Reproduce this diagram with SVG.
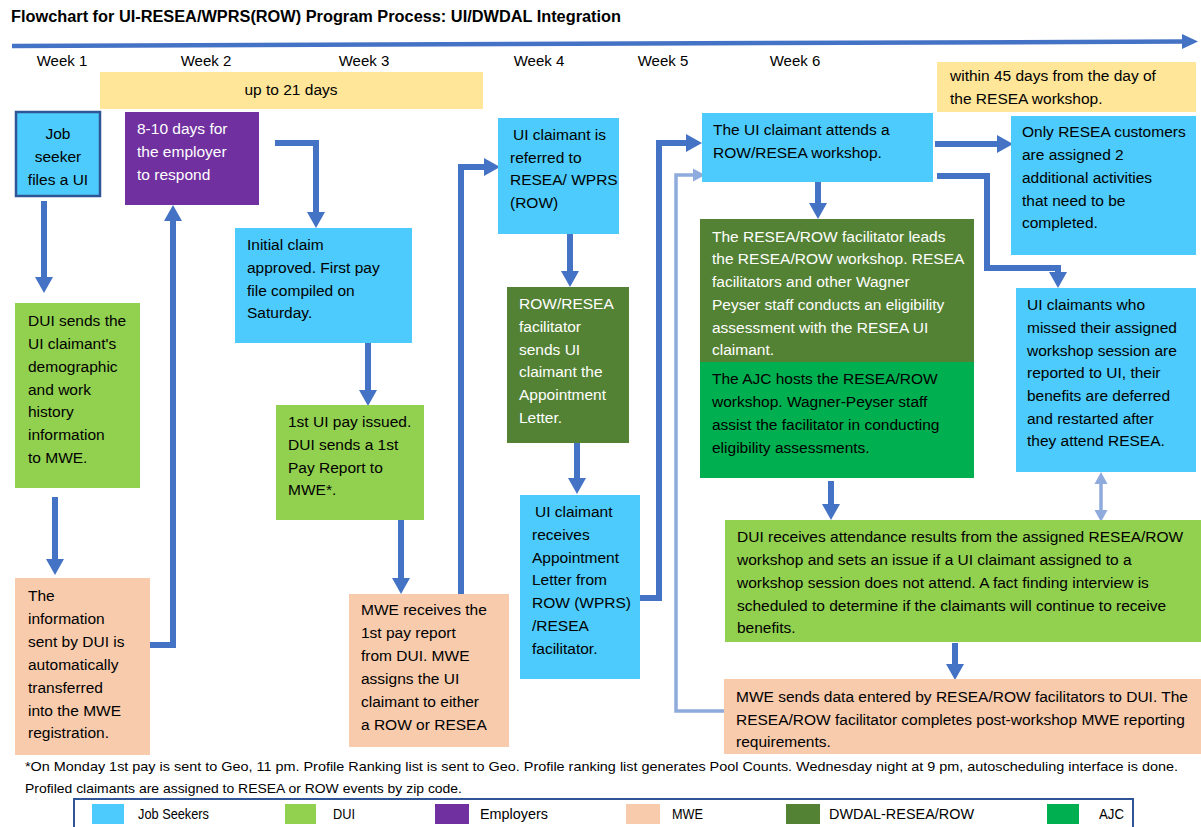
<svg xmlns="http://www.w3.org/2000/svg" width="1201" height="827" viewBox="0 0 1201 827">
<style>
.t{font-family:"Liberation Sans",Arial,sans-serif;font-size:15.5px;fill:#000}
.w{fill:#fff}
.wk{font-family:"Liberation Sans",Arial,sans-serif;font-size:15px;fill:#000;text-anchor:middle}
.fn{font-family:"Liberation Sans",Arial,sans-serif;font-size:13.5px;fill:#000}
.c{fill:none;stroke:#4472C4;stroke-width:6}
.cl{fill:none;stroke:#8FAADC;stroke-width:3.5}
.js{fill:#4CCBFC}.dui{fill:#92D050}.emp{fill:#7030A0}.mwe{fill:#F8CBAD}.dw{fill:#548235}.ajc{fill:#00B050}.yl{fill:#FFE699}
.lg{font-family:"Liberation Sans",Arial,sans-serif;font-size:15px;fill:#000}
</style>
<defs>
<marker id="ah" markerUnits="userSpaceOnUse" markerWidth="18" markerHeight="20" refX="0" refY="9" orient="auto" overflow="visible">
<path d="M0,0 L16,9 L0,18 z" fill="#4472C4"/>
</marker>
<marker id="al" markerUnits="userSpaceOnUse" markerWidth="14" markerHeight="14" refX="0" refY="6.5" orient="auto-start-reverse" overflow="visible">
<path d="M0,0 L12,6.5 L0,13 z" fill="#8FAADC"/>
</marker>
</defs>
<rect width="1201" height="827" fill="#fff"/>
<text x="11" y="22" font-family="Liberation Sans,Arial,sans-serif" font-size="16" font-weight="bold" textLength="610" lengthAdjust="spacingAndGlyphs">Flowchart for UI-RESEA/WPRS(ROW) Program Process: UI/DWDAL Integration</text>
<g id="timeline">
<path d="M12,46 L1184,41.5" stroke="#4472C4" stroke-width="4.5" fill="none"/>
<path d="M1182,34 L1198,41.5 L1182,49 z" fill="#4472C4"/>
<text class="wk" x="62" y="66">Week 1</text>
<text class="wk" x="206" y="66">Week 2</text>
<text class="wk" x="364" y="66">Week 3</text>
<text class="wk" x="539" y="66">Week 4</text>
<text class="wk" x="663" y="66">Week 5</text>
<text class="wk" x="795" y="66">Week 6</text>
</g>
<g id="span21">
<rect class="yl" x="100" y="72" width="383" height="37"/>
<text class="t" x="291" y="95" text-anchor="middle">up to 21 days</text>
</g>
<g id="span45">
<rect class="yl" x="937" y="62" width="259" height="50"/>
<text class="t" x="950" y="81">within 45 days from the day of</text>
<text class="t" x="950" y="104">the RESEA workshop.</text>
</g>
<g id="connectors">
<path class="c" d="M44,201 V277" marker-end="url(#ah)"/>
<path class="c" d="M55,497 V559" marker-end="url(#ah)"/>
<path class="c" d="M137,645 H173 V221" marker-end="url(#ah)"/>
<path class="c" d="M275,143 H316 V212" marker-end="url(#ah)"/>
<path class="c" d="M368,338 V390" marker-end="url(#ah)"/>
<path class="c" d="M401,513 V578" marker-end="url(#ah)"/>
<path class="c" d="M461,594 V167 H484" marker-end="url(#ah)"/>
<path class="c" d="M570,234 V271" marker-end="url(#ah)"/>
<path class="c" d="M577,443 V478" marker-end="url(#ah)"/>
<path class="c" d="M638,598 H659 V143 H686" marker-end="url(#ah)"/>
<path class="cl" d="M725,711 H676 V175 H693" marker-end="url(#al)"/>
<path class="c" d="M818,182 V203" marker-end="url(#ah)"/>
<path class="c" d="M935,144 H997" marker-end="url(#ah)"/>
<path class="c" d="M937,176 H987 V268 H1058 V272" marker-end="url(#ah)"/>
<path class="cl" d="M1101,484 V510" marker-start="url(#al)" marker-end="url(#al)"/>
<path class="c" d="M831,481 V504" marker-end="url(#ah)"/>
<path class="c" d="M955,643 V664" marker-end="url(#ah)"/>
</g>
<g id="n1">
<rect class="js" x="16" y="112" width="84" height="84" stroke="#2F5597" stroke-width="2.5"/>
<text class="t" x="58" y="139" text-anchor="middle">Job</text>
<text class="t" x="58" y="162" text-anchor="middle">seeker</text>
<text class="t" x="58" y="185" text-anchor="middle">files a UI</text>
</g>
<g id="n2">
<rect class="emp" x="125" y="112" width="134" height="93"/>
<text class="t w" x="137" y="134">8-10 days for</text>
<text class="t w" x="137" y="157">the employer</text>
<text class="t w" x="137" y="180">to respond</text>
</g>
<g id="n3">
<rect class="dui" x="15" y="303" width="125" height="185"/>
<text class="t" x="28" y="326">DUI sends the</text>
<text class="t" x="28" y="349">UI claimant's</text>
<text class="t" x="28" y="372">demographic</text>
<text class="t" x="28" y="395">and work</text>
<text class="t" x="28" y="417">history</text>
<text class="t" x="28" y="440">information</text>
<text class="t" x="28" y="463">to MWE.</text>
</g>
<g id="n4">
<rect class="mwe" x="15" y="578" width="135" height="177"/>
<text class="t" x="28" y="601">The</text>
<text class="t" x="28" y="624">information</text>
<text class="t" x="28" y="647">sent by DUI is</text>
<text class="t" x="28" y="670">automatically</text>
<text class="t" x="28" y="693">transferred</text>
<text class="t" x="28" y="716">into the MWE</text>
<text class="t" x="28" y="738">registration.</text>
</g>
<g id="n5">
<rect class="js" x="235" y="228" width="177" height="115"/>
<text class="t" x="247" y="250">Initial claim</text>
<text class="t" x="247" y="273">approved. First pay</text>
<text class="t" x="247" y="296">file compiled on</text>
<text class="t" x="247" y="318">Saturday.</text>
</g>
<g id="n6">
<rect class="dui" x="276" y="405" width="148" height="115"/>
<text class="t" x="288" y="427">1st UI pay issued.</text>
<text class="t" x="288" y="450">DUI sends a 1st</text>
<text class="t" x="288" y="473">Pay Report to</text>
<text class="t" x="288" y="495">MWE*.</text>
</g>
<g id="n7">
<rect class="mwe" x="349" y="594" width="160" height="153"/>
<text class="t" x="361" y="615">MWE receives the</text>
<text class="t" x="361" y="638">1st pay report</text>
<text class="t" x="361" y="661">from DUI. MWE</text>
<text class="t" x="361" y="684">assigns the UI</text>
<text class="t" x="361" y="707">claimant to either</text>
<text class="t" x="361" y="730">a ROW or RESEA</text>
</g>
<g id="n8">
<rect class="js" x="498" y="118" width="121" height="116"/>
<text class="t" x="513" y="140">UI claimant is</text>
<text class="t" x="510" y="163">referred to</text>
<text class="t" x="510" y="185">RESEA/ WPRS</text>
<text class="t" x="510" y="208">(ROW)</text>
</g>
<g id="n9">
<rect class="dw" x="507" y="287" width="122" height="156"/>
<text class="t w" x="519" y="309">ROW/RESEA</text>
<text class="t w" x="519" y="332">facilitator</text>
<text class="t w" x="519" y="355">sends UI</text>
<text class="t w" x="519" y="377">claimant the</text>
<text class="t w" x="519" y="400">Appointment</text>
<text class="t w" x="519" y="423">Letter.</text>
</g>
<g id="n10">
<rect class="js" x="520" y="495" width="120" height="184"/>
<text class="t" x="535" y="517">UI claimant</text>
<text class="t" x="532" y="540">receives</text>
<text class="t" x="532" y="563">Appointment</text>
<text class="t" x="532" y="585">Letter from</text>
<text class="t" x="532" y="608">ROW (WPRS)</text>
<text class="t" x="532" y="631">/RESEA</text>
<text class="t" x="532" y="654">facilitator.</text>
</g>
<g id="n11">
<rect class="js" x="702" y="113" width="231" height="69"/>
<text class="t" x="713" y="135">The UI claimant attends a</text>
<text class="t" x="713" y="158">ROW/RESEA workshop.</text>
</g>
<g id="n12">
<rect class="dw" x="700" y="219" width="274" height="143"/>
<text class="t w" x="712" y="242">The RESEA/ROW facilitator leads</text>
<text class="t w" x="712" y="264">the RESEA/ROW workshop. RESEA</text>
<text class="t w" x="712" y="287">facilitators and other Wagner</text>
<text class="t w" x="712" y="310">Peyser staff conducts an eligibility</text>
<text class="t w" x="712" y="333">assessment with the RESEA UI</text>
<text class="t w" x="712" y="355">claimant.</text>
</g>
<g id="n13">
<rect class="ajc" x="700" y="362" width="274" height="116"/>
<text class="t" x="712" y="384">The AJC hosts the RESEA/ROW</text>
<text class="t" x="712" y="407">workshop. Wagner-Peyser staff</text>
<text class="t" x="712" y="430">assist the facilitator in conducting</text>
<text class="t" x="712" y="453">eligibility assessments.</text>
</g>
<g id="n14">
<rect class="js" x="1011" y="116" width="185" height="139"/>
<text class="t" x="1022" y="137">Only RESEA customers</text>
<text class="t" x="1022" y="160">are assigned 2</text>
<text class="t" x="1022" y="183">additional activities</text>
<text class="t" x="1022" y="206">that need to be</text>
<text class="t" x="1022" y="228">completed.</text>
</g>
<g id="n15">
<rect class="js" x="1016" y="288" width="180" height="184"/>
<text class="t" x="1027" y="310">UI claimants who</text>
<text class="t" x="1027" y="333">missed their assigned</text>
<text class="t" x="1027" y="356">workshop session are</text>
<text class="t" x="1027" y="378">reported to UI, their</text>
<text class="t" x="1027" y="401">benefits are deferred</text>
<text class="t" x="1027" y="424">and restarted after</text>
<text class="t" x="1027" y="446">they attend RESEA.</text>
</g>
<g id="n16">
<rect class="dui" x="725" y="520" width="476" height="122"/>
<text class="t" x="737" y="542">DUI receives attendance results from the assigned RESEA/ROW</text>
<text class="t" x="737" y="565">workshop and sets an issue if a UI claimant assigned to a</text>
<text class="t" x="737" y="588">workshop session does not attend. A fact finding interview is</text>
<text class="t" x="737" y="611">scheduled to determine if the claimants will continue to receive</text>
<text class="t" x="737" y="633">benefits.</text>
</g>
<g id="n17">
<rect class="mwe" x="724" y="679" width="477" height="75"/>
<text class="t" x="736" y="702">MWE sends data entered by RESEA/ROW facilitators to DUI. The</text>
<text class="t" x="736" y="725">RESEA/ROW facilitator completes post-workshop MWE reporting</text>
<text class="t" x="736" y="747">requirements.</text>
</g>
<g id="footnote">
<text class="fn" x="25" y="771" textLength="1153" lengthAdjust="spacingAndGlyphs">*On Monday 1st pay is sent to Geo, 11 pm. Profile Ranking list is sent to Geo. Profile ranking list generates Pool Counts. Wednesday night at 9 pm, autoscheduling interface is done.</text>
<text class="fn" x="25" y="793" textLength="437" lengthAdjust="spacingAndGlyphs">Profiled claimants are assigned to RESEA or ROW events by zip code.</text>
</g>
<g id="legend">
<rect x="74" y="799" width="1059" height="40" fill="#fff" stroke="#2F5597" stroke-width="2"/>
<rect class="js" x="92" y="804" width="32" height="20"/>
<text class="lg" x="138" y="819" textLength="71" lengthAdjust="spacingAndGlyphs">Job Seekers</text>
<rect class="dui" x="285" y="804" width="31" height="20"/>
<text class="lg" x="333" y="819" textLength="22" lengthAdjust="spacingAndGlyphs">DUI</text>
<rect class="emp" x="435" y="804" width="34" height="20"/>
<text class="lg" x="480" y="819" textLength="68" lengthAdjust="spacingAndGlyphs">Employers</text>
<rect class="mwe" x="626" y="804" width="34" height="20"/>
<text class="lg" x="672" y="819" textLength="31" lengthAdjust="spacingAndGlyphs">MWE</text>
<rect class="dw" x="786" y="804" width="34" height="20"/>
<text class="lg" x="829" y="819" textLength="145" lengthAdjust="spacingAndGlyphs">DWDAL-RESEA/ROW</text>
<rect class="ajc" x="1047" y="804" width="32" height="20"/>
<text class="lg" x="1099" y="819" textLength="25" lengthAdjust="spacingAndGlyphs">AJC</text>
</g>
</svg>
